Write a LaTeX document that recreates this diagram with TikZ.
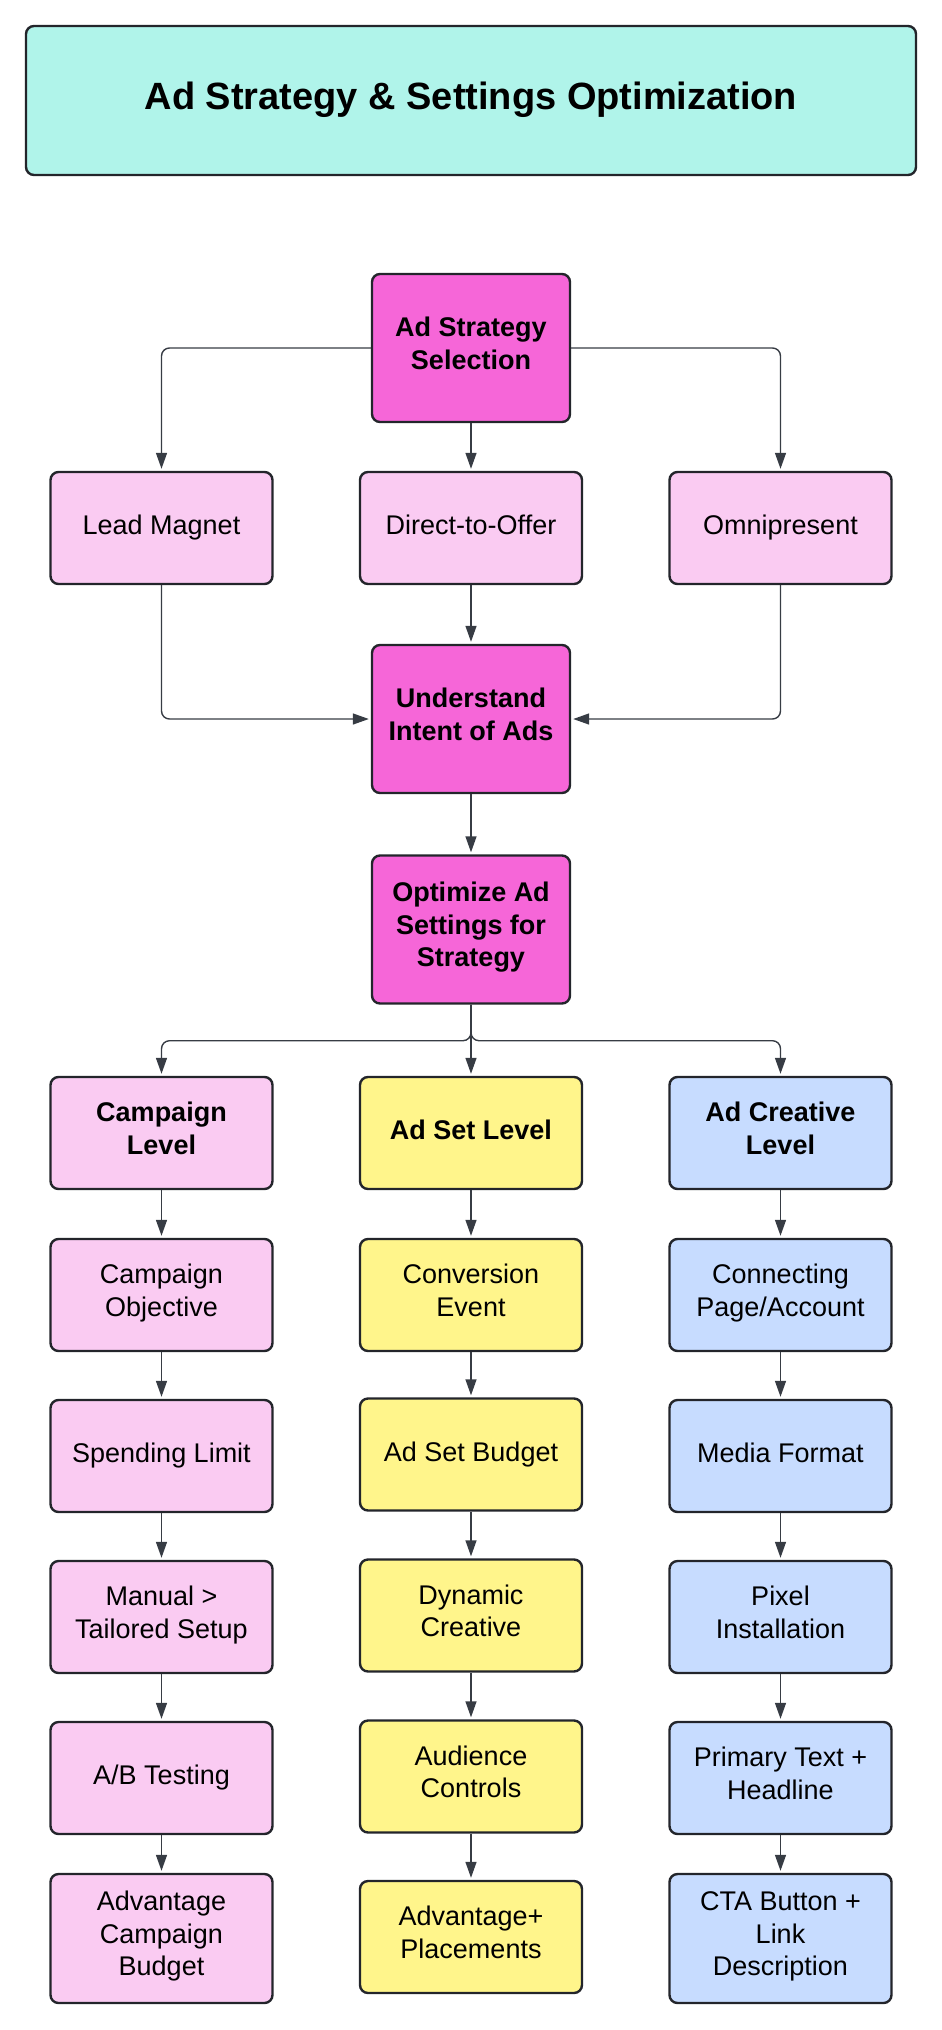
\documentclass[tikz,border=0pt]{standalone}
\usepackage{fontspec}
\setmainfont{Liberation Sans}
\usepackage{tikz}
\usetikzlibrary{arrows.meta,positioning}

\definecolor{mint}{RGB}{176,244,234}
\definecolor{hotpink}{RGB}{246,102,216}
\definecolor{softpink}{RGB}{250,203,242}
\definecolor{lemon}{RGB}{255,245,139}
\definecolor{skyblue}{RGB}{199,220,255}
\definecolor{boxline}{RGB}{35,37,43}
\definecolor{arrowgray}{RGB}{55,60,68}

\tikzset{
  box/.style={draw=boxline, line width=2.4pt, rounded corners=8pt, align=center,
    inner sep=0pt, minimum width=222pt, minimum height=112pt,
    font=\fontsize{27}{32.5}\selectfont,
    execute at begin node=\strut, execute at end node=\strut},
  keybox/.style={box, fill=hotpink, minimum width=198pt, minimum height=148pt,
    font=\fontsize{27}{32.5}\selectfont\bfseries},
  pinkbox/.style={box, fill=softpink},
  yellowbox/.style={box, fill=lemon},
  bluebox/.style={box, fill=skyblue},
  headbox/.style={font=\fontsize{27}{32.5}\selectfont\bfseries},
  link/.style={-{Triangle[length=16pt,width=11pt]}, line width=1.4pt,
    draw=arrowgray, rounded corners=8pt, shorten >=2pt}
}

\begin{document}
\begin{tikzpicture}[x=1pt,y=-1pt]
\useasboundingbox (0,0) rectangle (942,2030);
% title
\node (title) at (471,100.5) [box, fill=mint, minimum width=890pt, minimum height=149pt,
  font=\fontsize{38}{46}\selectfont\bfseries] {Ad Strategy \& Settings Optimization};

% strategy part
\node (strat) at (471,348) [keybox] {Ad Strategy\\Selection};
\node (lead) at (161.5,528) [pinkbox] {Lead Magnet};
\node (direct) at (471,528) [pinkbox] {Direct-to-Offer};
\node (omni) at (780.5,528) [pinkbox] {Omnipresent};
\node (intent) at (471,719) [keybox] {Understand\\Intent of Ads};
\node (opt) at (471,929.5) [keybox] {Optimize Ad\\Settings for\\Strategy};

% campaign level
\node (camp) at (161.5,1133) [pinkbox, headbox] {Campaign\\Level};
\node (cobj) at (161.5,1295) [pinkbox] {Campaign\\Objective};
\node (spend) at (161.5,1456) [pinkbox] {Spending Limit};
\node (manual) at (161.5,1617) [pinkbox] {Manual >\\Tailored Setup};
\node (abtest) at (161.5,1778) [pinkbox] {A/B Testing};
\node (acb) at (161.5,1938.5) [pinkbox, minimum height=129pt] {Advantage\\Campaign\\Budget};

% ad set level
\node (adset) at (471,1133) [yellowbox, headbox] {Ad Set Level};
\node (conv) at (471,1295) [yellowbox] {Conversion\\Event};
\node (asbud) at (471,1454.5) [yellowbox] {Ad Set Budget};
\node (dyn) at (471,1615.5) [yellowbox] {Dynamic\\Creative};
\node (aud) at (471,1776.5) [yellowbox] {Audience\\Controls};
\node (advpl) at (471,1937) [yellowbox] {Advantage+\\Placements};

% ad creative level
\node (creat) at (780.5,1133) [bluebox, headbox] {Ad Creative\\Level};
\node (conn) at (780.5,1295) [bluebox] {Connecting\\Page/Account};
\node (media) at (780.5,1456) [bluebox] {Media Format};
\node (pixel) at (780.5,1617) [bluebox] {Pixel\\Installation};
\node (prim) at (780.5,1778) [bluebox] {Primary Text +\\Headline};
\node (cta) at (780.5,1938.5) [bluebox, minimum height=129pt] {CTA Button +\\Link\\Description};

\begin{scope}[every path/.style={link}]
\draw (strat.west) -| (lead.north);
\draw (strat.south) -- (direct.north);
\draw (strat.east) -| (omni.north);
\draw (lead.south) |- (intent.west);
\draw (direct.south) -- (intent.north);
\draw (omni.south) |- (intent.east);
\draw (intent.south) -- (opt.north);
\draw (opt.south) -- ++(0,36) -| (camp.north);
\draw (opt.south) -- (adset.north);
\draw (opt.south) -- ++(0,36) -| (creat.north);
\draw (camp) -- (cobj);
\draw (cobj) -- (spend);
\draw (spend) -- (manual);
\draw (manual) -- (abtest);
\draw (abtest) -- (acb);
\draw (adset) -- (conv);
\draw (conv) -- (asbud);
\draw (asbud) -- (dyn);
\draw (dyn) -- (aud);
\draw (aud) -- (advpl);
\draw (creat) -- (conn);
\draw (conn) -- (media);
\draw (media) -- (pixel);
\draw (pixel) -- (prim);
\draw (prim) -- (cta);
\end{scope}
\end{tikzpicture}
\end{document}
